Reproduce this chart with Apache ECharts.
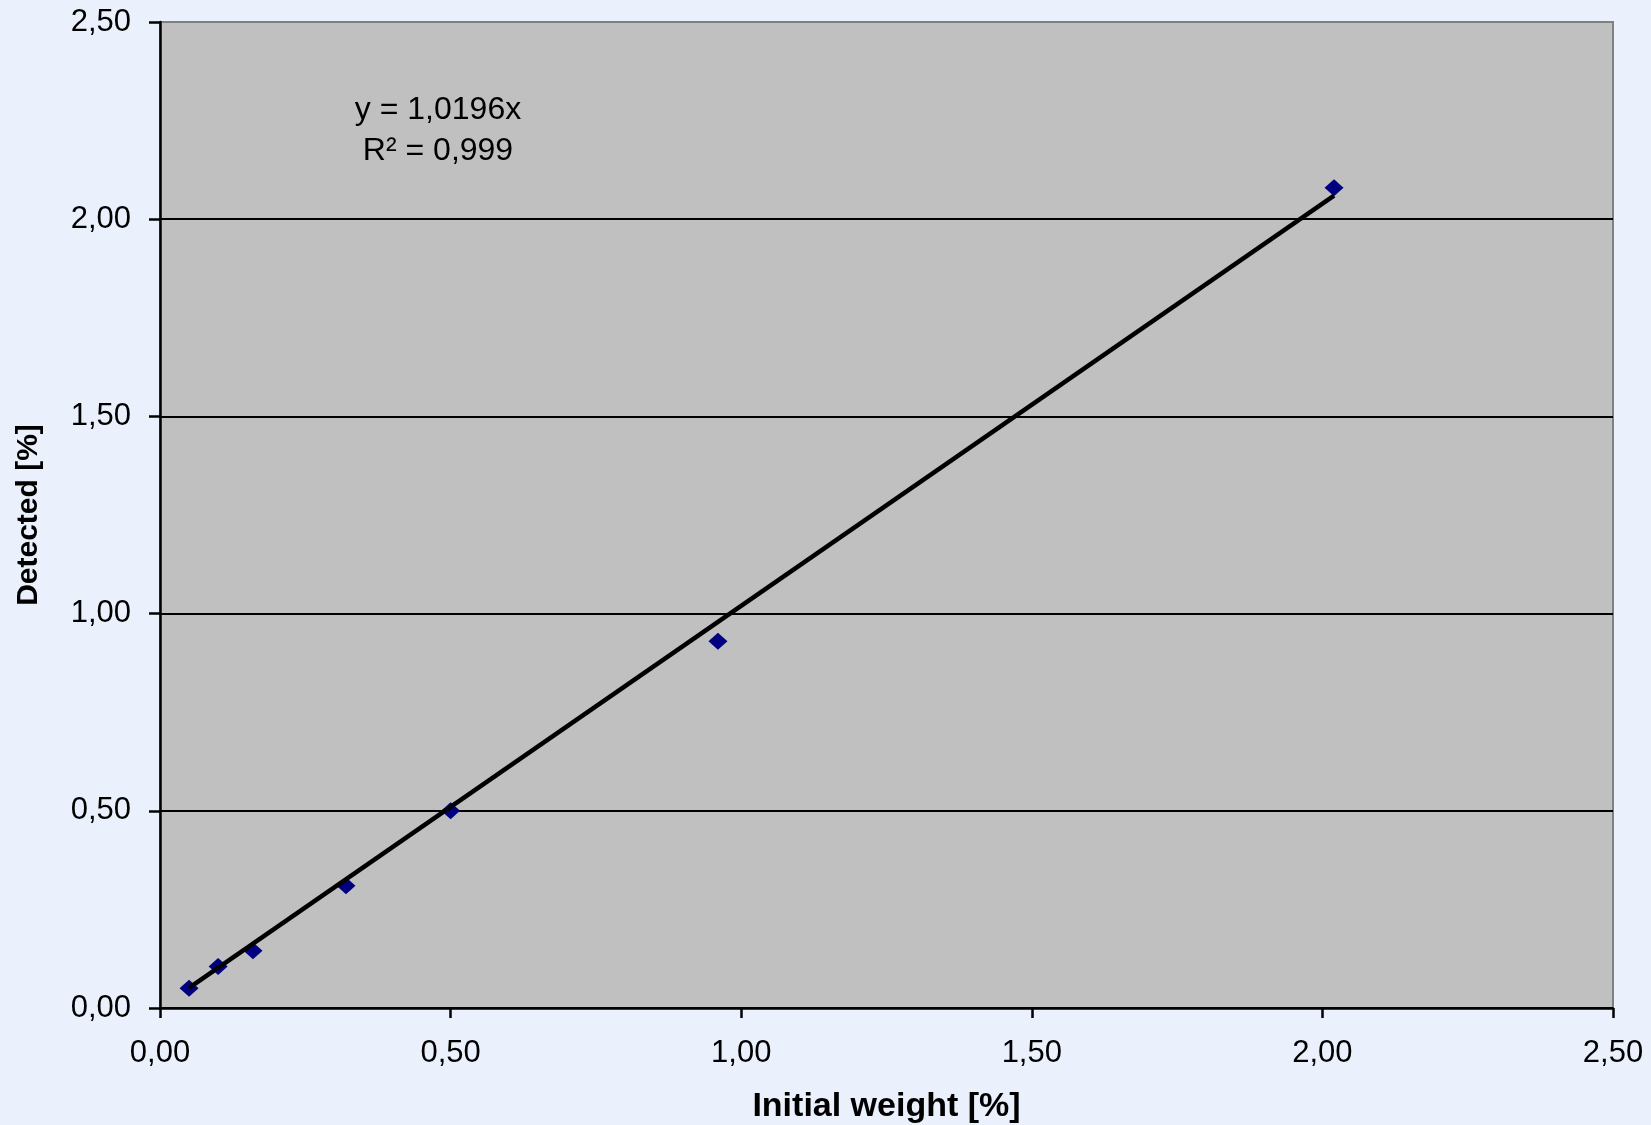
<!DOCTYPE html>
<html>
<head>
<meta charset="utf-8">
<script src="https://cdn.jsdelivr.net/npm/echarts@6/dist/echarts.min.js"></script>
<style>
  html, body { margin: 0; padding: 0; background: #EAF0FC; }
  #chart { width: 1651px; height: 1125px; }
</style>
</head>
<body>
<div id="chart"></div>
<script>
// Measured samples: initial weight vs. detected amount (both in %)
const initialWeight = [0.05, 0.10, 0.16, 0.32, 0.50, 0.96, 2.02];
const detected      = [0.05, 0.105, 0.145, 0.31, 0.50, 0.93, 2.08];

// Linear trend through the origin, as reported
const trendSlope = 1.0196;
const trendR2 = 0.999;

// Axis ticks
const axisTicks = [0, 0.5, 1.0, 1.5, 2.0, 2.5];

const fmt = v => v.toFixed(2).replace('.', ',');

const points = initialWeight.map((x, i) => [x, detected[i]]);
const xMin = Math.min(...initialWeight);
const xMax = Math.max(...initialWeight);
const trendLine = [[xMin, trendSlope * xMin], [xMax, trendSlope * xMax]];

const FONT = '"Liberation Sans", Arial, sans-serif';

const chart = echarts.init(document.getElementById('chart'));
chart.setOption({
  backgroundColor: '#EAF0FC',
  animation: false,
  grid: {
    left: 160, right: 38, top: 22, bottom: 117,
    outerBoundsMode: 'none',
    containLabel: false,
    show: true,
    backgroundColor: '#C0C0C0',
    borderColor: '#808080',
    borderWidth: 2
  },
  xAxis: {
    type: 'value',
    min: axisTicks[0], max: axisTicks[axisTicks.length - 1], interval: 0.5,
    name: 'Initial weight [%]',
    nameLocation: 'middle',
    nameGap: 82,
    nameTextStyle: { fontFamily: FONT, fontWeight: 'bold', fontSize: 34, color: '#000' },
    axisLine: { show: true, onZero: false, lineStyle: { color: '#000', width: 2.5 } },
    axisTick: { show: true, length: 10, lineStyle: { color: '#000', width: 2.5 } },
    axisLabel: { fontFamily: FONT, fontSize: 31, color: '#000', margin: 30, formatter: fmt },
    splitLine: { show: false }
  },
  yAxis: {
    type: 'value',
    min: axisTicks[0], max: axisTicks[axisTicks.length - 1], interval: 0.5,
    name: 'Detected [%]',
    nameLocation: 'middle',
    nameGap: 116,
    nameTextStyle: { fontFamily: FONT, fontWeight: 'bold', fontSize: 30, color: '#000' },
    axisLine: { show: true, onZero: false, lineStyle: { color: '#000', width: 2.5 } },
    axisTick: { show: true, length: 11, lineStyle: { color: '#000', width: 2.5 } },
    axisLabel: { fontFamily: FONT, fontSize: 31, color: '#000', margin: 29, formatter: fmt },
    splitLine: {
      show: true,
      lineStyle: { color: ['#000', '#000', '#000', '#000', '#000', '#808080'], width: 2 }
    }
  },
  graphic: [{
    type: 'text',
    x: 438, y: 90,
    style: {
      text: 'y = ' + String(trendSlope).replace('.', ',') + 'x\nR² = ' + String(trendR2).replace('.', ','),
      fontFamily: FONT, fontSize: 32, fill: '#000',
      lineHeight: 41, align: 'center', verticalAlign: 'top'
    },
    z: 100
  }],
  series: [
    {
      type: 'scatter',
      data: points,
      symbol: 'diamond',
      symbolSize: [19, 17],
      itemStyle: { color: '#000080', opacity: 1 },
      z: 2
    },
    {
      type: 'line',
      data: trendLine,
      showSymbol: false,
      symbol: 'none',
      lineStyle: { color: '#000', width: 4.5 },
      z: 3
    }
  ]
});
</script>
</body>
</html>
